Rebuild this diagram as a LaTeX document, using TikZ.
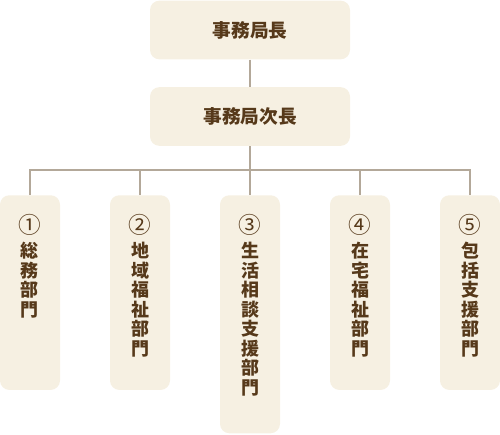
\documentclass[tikz,border=0pt]{standalone}
\usepackage{fontspec}
\setmainfont{Noto Sans CJK JP}
\usepackage{tikz}
\usetikzlibrary{positioning}

\definecolor{boxfill}{HTML}{F6F0E2}
\definecolor{linkcol}{HTML}{B3A899}
\definecolor{textcol}{HTML}{56391A}

\newcommand{\numsign}[1]{{\mdseries\fontsize{17}{14.6}\selectfont #1}}

\tikzset{
  box/.style={fill=boxfill, rounded corners=7pt, minimum width=150pt, minimum height=44pt,
    text=textcol, font=\bfseries\fontsize{14}{16}\selectfont},
  dept/.style={fill=boxfill, rounded corners=7pt, minimum width=45pt, anchor=north},
  deptlab/.style={align=center, inner sep=0pt, text=textcol, anchor=north, yshift=-14pt,
    font=\bfseries\fontsize{13.5}{14.6}\selectfont},
  link/.style={draw=linkcol, line width=2.2pt}
}

\begin{document}
\begin{tikzpicture}[x=0.75pt,y=-0.75pt]
\useasboundingbox (0,0) rectangle (500,435);
\node[box] (head) at (250,30) {事務局長};
\node[box] (vice) at (250,116.5) {事務局次長};
\coordinate (bus) at (250,170);
\draw[link] (head) -- (vice);
\draw[link] (vice) -- (bus);
\foreach \i/\x/\h/\lab in {1/30/146/{\numsign{①}\\[4pt]総\\務\\部\\門},
                           2/140/146/{\numsign{②}\\[4pt]地\\域\\福\\祉\\部\\門},
                           3/250/178.5/{\numsign{③}\\[4pt]生\\活\\相\\談\\支\\援\\部\\門},
                           4/360/146/{\numsign{④}\\[4pt]在\\宅\\福\\祉\\部\\門},
                           5/470/146/{\numsign{⑤}\\[4pt]包\\括\\支\\援\\部\\門}}{
  \node[dept, minimum height=\h pt,
        label={[deptlab, name=lab\i]north:{\lab}}] (dept\i) at (\x,195) {};
  \draw[link] (dept\i.north) -- (dept\i.north |- bus);
}
\draw[link, line cap=rect] (dept1.north |- bus) -- (dept5.north |- bus);
\end{tikzpicture}
\end{document}
